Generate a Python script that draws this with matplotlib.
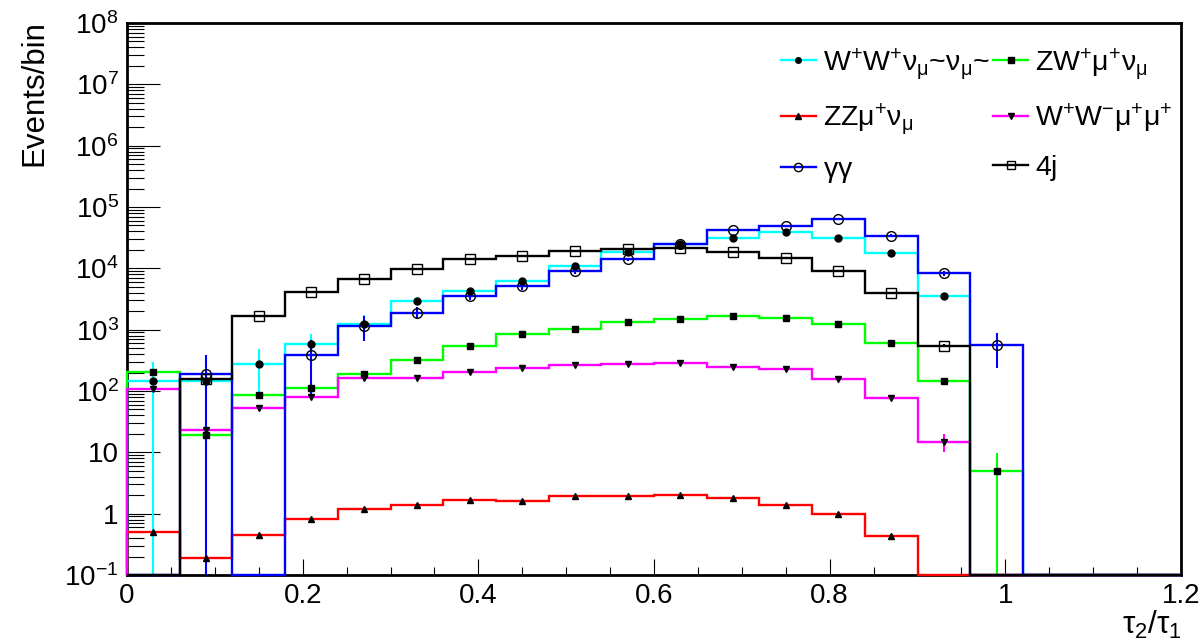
"""
Distribucion tau2/tau1 por proceso (estilo ROOT, escala log).
"""
import matplotlib
matplotlib.use("Agg")
import matplotlib.pyplot as plt
import matplotlib.ticker as mtick
from matplotlib.lines import Line2D
import numpy as np

# Binning: 20 bins de 0.06 entre 0 y 1.2
edges = np.round(np.linspace(0.0, 1.2, 21), 3)

# Contenidos por bin (0 = bin vacio)
wwvv = [145, 145, 280, 575, 1250, 2950, 4250, 6200, 11000, 18700, 25000,
        31000, 39000, 31500, 18000, 3550, 0, 0, 0, 0]
wwvv_err = [150, 20, 200, 270, 500, 450, 500, 600, 900, 1200, 1500,
            1700, 1900, 1700, 1200, 450, 0, 0, 0, 0]

zw = [205, 19.5, 85, 113, 188, 315, 550, 850, 1030, 1320, 1520,
      1640, 1540, 1230, 610, 145, 4.9, 0, 0, 0]
zw_err = [15, 4, 10, 12, 15, 20, 25, 30, 35, 40, 45,
          45, 45, 40, 25, 12, 4.9, 0, 0, 0]

zz = [0.5, 0.19, 0.45, 0.83, 1.2, 1.4, 1.7, 1.6, 1.95, 1.95, 2.05,
      1.8, 1.4, 0.97, 0.43, 0, 0, 0, 0, 0]
zz_err = [0.03, 0.02, 0.03, 0.04, 0.05, 0.05, 0.06, 0.06, 0.07, 0.07, 0.07,
          0.06, 0.05, 0.04, 0.03, 0, 0, 0, 0, 0]

wwmm = [107, 23, 53, 79, 163, 165, 205, 240, 270, 275, 288,
        245, 230, 155, 77, 15, 0, 0, 0, 0]
wwmm_err = [8, 3, 5, 6, 9, 9, 10, 11, 12, 12, 12,
            11, 11, 9, 6, 5, 0, 0, 0, 0]

gg = [0, 190, 0, 380, 1150, 1900, 3600, 5100, 9000, 14000, 24500,
      42000, 49000, 63000, 34000, 8300, 565, 0, 0, 0]
gg_err = [0, 195, 0, 300, 500, 400, 500, 600, 800, 1000, 1400,
          1800, 2000, 2300, 1700, 800, 330, 0, 0, 0]

qcd4j = [0, 155, 1660, 4100, 6600, 9800, 14000, 16000, 19000, 20500, 21500,
         18600, 14700, 8900, 3900, 550, 0, 0, 0, 0]
qcd4j_err = [0, 10, 40, 60, 80, 100, 120, 130, 140, 145, 150,
             140, 120, 95, 60, 25, 0, 0, 0, 0]

labels = [
    r"W$^{+}$W$^{+}$$\nu_{\mu}$~$\nu_{\mu}$~",
    r"ZW$^{+}$$\mu^{+}\nu_{\mu}$",
    r"ZZ$\mu^{+}\nu_{\mu}$",
    r"W$^{+}$W$^{-}$$\mu^{+}\mu^{+}$",
    r"$\gamma\gamma$",
    "4j",
]

# Estilo
YMIN, YMAX = 0.1, 1e8
FS = 20
FS_LEG = 20.5
FS_TITLE = 22.5

plt.rcParams.update({
    "font.family": ["Liberation Sans", "DejaVu Sans"],
    "font.size": FS,
    "mathtext.fontset": "custom",
    "mathtext.rm": "Liberation Sans",
    "mathtext.it": "Liberation Sans",
    "mathtext.bf": "Liberation Sans:bold",
    "mathtext.default": "regular",
    "figure.facecolor": "white",
    "axes.facecolor": "white",
})


def log_label(v, pos):
    e = int(round(np.log10(v)))
    if e == 0:
        return "1"
    if e == 1:
        return "10"
    return r"$10^{%d}$" % e


def main() -> None:
    fig = plt.figure(figsize=(12.04, 6.42), dpi=100)
    ax = fig.add_axes([127 / 1204, 67 / 642, 1054 / 1204, 552 / 642])

    centers = 0.5 * (edges[:-1] + edges[1:])
    series = [
        (wwvv, wwvv_err, "#00ffff", "o", "black", 5.0),
        (zw, zw_err, "#00ff00", "s", "black", 5.0),
        (zz, zz_err, "#ff0000", "^", "black", 5.0),
        (wwmm, wwmm_err, "#ff00ff", "v", "black", 5.0),
        (gg, gg_err, "#0000ff", "o", "none", 7.0),
        (qcd4j, qcd4j_err, "black", "s", "none", 7.0),
    ]

    handles = []
    for vals, errs, color, mk, mfc, ms in series:
        v = np.array(vals, dtype=float)
        e = np.array(errs, dtype=float)
        ax.stairs(np.maximum(v, YMIN), edges, baseline=YMIN, color=color,
                  lw=1.7, zorder=3, clip_on=False)
        ok = v > 0
        lo = np.maximum(v[ok] - e[ok], YMIN)
        hi = v[ok] + e[ok]
        ax.vlines(centers[ok], lo, hi, colors=color, lw=1.5, zorder=3)
        ax.plot(centers[ok], v[ok], ls="none", marker=mk, ms=ms, mfc=mfc,
                mec="black", mew=1.0, zorder=4)
        handles.append(Line2D([], [], color=color, lw=1.7, marker=mk,
                              ms=ms - 1, mfc=mfc, mec="black", mew=1.0))

    ax.set_yscale("log")
    ax.set_ylim(YMIN, YMAX)
    ax.set_xlim(0, 1.2)

    ax.yaxis.set_major_locator(mtick.LogLocator(base=10, numticks=20))
    ax.yaxis.set_minor_locator(mtick.LogLocator(base=10, subs=np.arange(2, 10), numticks=20))
    ax.yaxis.set_major_formatter(mtick.FuncFormatter(log_label))
    ax.yaxis.set_minor_formatter(mtick.NullFormatter())
    ax.xaxis.set_major_locator(mtick.MultipleLocator(0.2))
    ax.xaxis.set_minor_locator(mtick.MultipleLocator(0.05))
    ax.xaxis.set_major_formatter(mtick.FormatStrFormatter("%g"))

    ax.tick_params(axis="y", which="major", direction="in", length=24, width=0.8,
                   labelsize=FS, pad=6)
    ax.tick_params(axis="y", which="minor", direction="in", length=12, width=0.8)
    ax.tick_params(axis="x", which="major", direction="in", length=11.5, width=0.8,
                   labelsize=FS, pad=6)
    ax.tick_params(axis="x", which="minor", direction="in", length=6, width=0.8)
    for sp in ax.spines.values():
        sp.set_linewidth(2.0)
        sp.set_zorder(2.5)

    fig.text(34 / 1204, 1 - 20 / 642, "Events/bin", rotation=90,
             ha="center", va="top", fontsize=FS_TITLE)
    fig.text(1182 / 1204, 1 / 642, r"$\tau_{2}/\tau_{1}$",
             ha="right", va="bottom", fontsize=FS_TITLE)

    order = [0, 2, 4, 1, 3, 5]
    ax.legend([handles[i] for i in order], [labels[i] for i in order],
              ncol=2, loc="upper right", frameon=False, fontsize=FS_LEG,
              bbox_to_anchor=(1173 / 1204, 1 - 46 / 642),
              bbox_transform=fig.transFigure,
              handlelength=1.25, handletextpad=0.25, columnspacing=0.1,
              labelspacing=0.7, borderpad=0, borderaxespad=0)

    fig.savefig("out.png", dpi=100)
    plt.close(fig)


if __name__ == "__main__":
    main()
